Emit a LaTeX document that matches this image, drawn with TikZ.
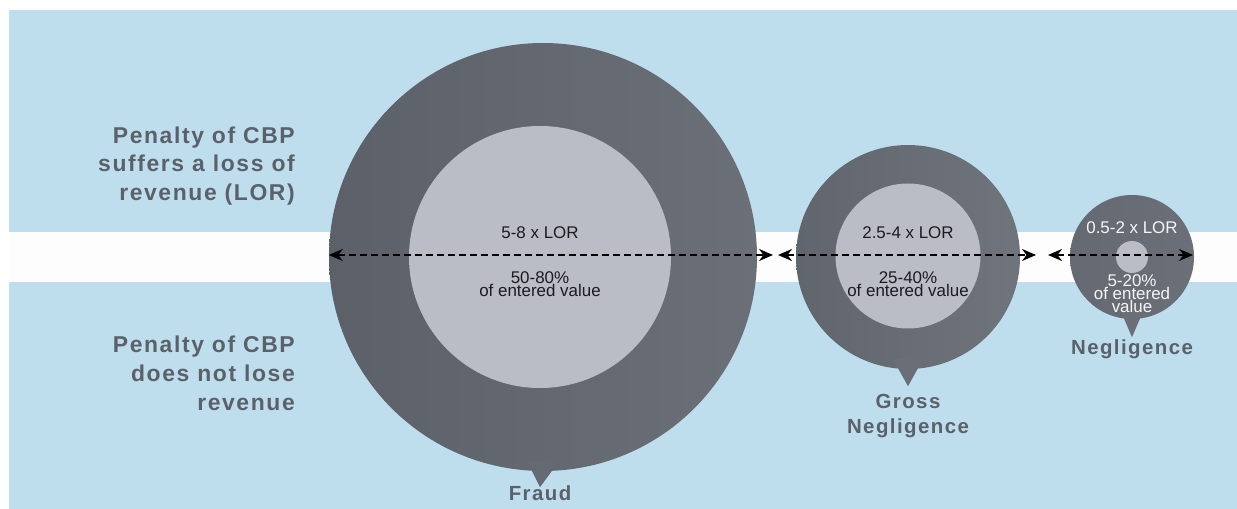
\documentclass[tikz,border=0pt]{standalone}
\usepackage{fontspec}
\setmainfont{Liberation Sans}
\newfontfamily\labelfont{Liberation Sans}[LetterSpace=7]
\usetikzlibrary{arrows.meta,calc}
\definecolor{bgblue}{HTML}{BEDEEE}
\definecolor{bandwhite}{HTML}{FDFDFD}
\definecolor{ringdark}{HTML}{5B6069}
\definecolor{ringlight}{HTML}{6B7078}
\definecolor{ringmid}{HTML}{656A72}
\definecolor{corefill}{HTML}{BABDC6}
\definecolor{labelgray}{HTML}{5B6169}
\definecolor{figtext}{HTML}{1C1C1E}
\tikzset{
	ring/.style={circle, inner sep=0pt, draw=none, left color=ringdark, right color=ringlight},
	core/.style={circle, inner sep=0pt, draw=none, fill=corefill},
	tag/.style={font=\labelfont\bfseries\fontsize{20.5}{25}\selectfont, text=labelgray, align=center, inner sep=0pt},
	side/.style={font=\labelfont\bfseries\fontsize{23}{29}\selectfont, text=labelgray, align=right, inner sep=0pt, anchor=east},
	figure/.style={font=\fontsize{17}{13}\selectfont, text=figtext, align=center, inner sep=0pt},
	span/.style={{Stealth[length=14bp,width=12bp,inset=4.5bp]}-{Stealth[length=14bp,width=12bp,inset=4.5bp]}, dash pattern=on 7bp off 4bp, line width=2bp}
}

\begin{document}
\begin{tikzpicture}[x=1bp, y=-1bp]
        \useasboundingbox (0,0) rectangle (1237,509);
        \fill[white] (0,0) rectangle (1237,509);
        \fill[bgblue] (9,10) rectangle (1237,509);
        \fill[bandwhite] (9,232) rectangle (1237,282);

        % the two rows
        \node[side] (lossrow) at (295,166) {Penalty of CBP\\suffers a loss of\\revenue (LOR)};
        \node[side] (nolossrow) at (295,373) {Penalty of CBP\\does not lose\\revenue};

        % fraud
        \node[ring, minimum size=428bp] (fraud) at (543,257) {};
        \fill[ringmid] ($(fraud.south)+(-16,-10)$) -- ($(fraud.south)+(16,-10)$) -- ($(fraud.south)+(-3,16)$) -- cycle;
        \node[core, minimum size=262bp] (fraudcore) at (540,257) {};
        \node[figure] (fraudlor) at (540,233) {5-8 x LOR};
        \node[figure] (fraudval) at (540,284) {50-80\%\\of entered value};
        \node[tag] (fraudtag) at (540,493) {Fraud};

        % gross negligence
        \node[ring, minimum size=224bp, left color=ringmid!96!black, right color=ringlight!97!white] (gross) at (908,257) {};
        \fill[ringmid!97!white] ($(gross.south)+(-15,-10)$) -- ($(gross.south)+(15,-10)$) -- ($(gross.south)+(0,17)$) -- cycle;
        \node[core, minimum size=145bp] (grosscore) at (908,256) {};
        \node[figure] (grosslor) at (908,233) {2.5-4 x LOR};
        \node[figure] (grossval) at (908,284) {25-40\%\\of entered value};
        \node[tag] (grosstag) at (908,416) {Gross\\Negligence};

        % negligence
        \node[ring, minimum size=124bp, left color=ringmid, right color=ringlight] (neg) at (1132,257) {};
        \fill[ringmid!97!white] ($(neg.south)+(-12,-10)$) -- ($(neg.south)+(12,-10)$) -- ($(neg.south)+(0,18)$) -- cycle;
        \node[core, minimum size=32bp] (negcore) at (1132,257) {};
        \node[figure, text=white!92!gray] (neglor) at (1132,228) {0.5-2 x LOR};
        \node[figure, text=white!92!gray] (negval) at (1132,294) {5-20\%\\of entered\\value};
        \node[tag] (negtag) at (1132,349) {Negligence};

        % ranges
        \coordinate (fraudend) at (773,255);
        \coordinate (grossstart) at (778,255);
        \coordinate (grossend) at (1036,255);
        \coordinate (negstart) at (1048,255);
        \coordinate (negend) at (1193,255);
        \draw[span] (fraud.west |- fraudend) -- (fraudend);
        \draw[span] (grossstart) -- (grossend);
        \draw[span] (negstart) -- (negend);
    \end{tikzpicture}
\end{document}
